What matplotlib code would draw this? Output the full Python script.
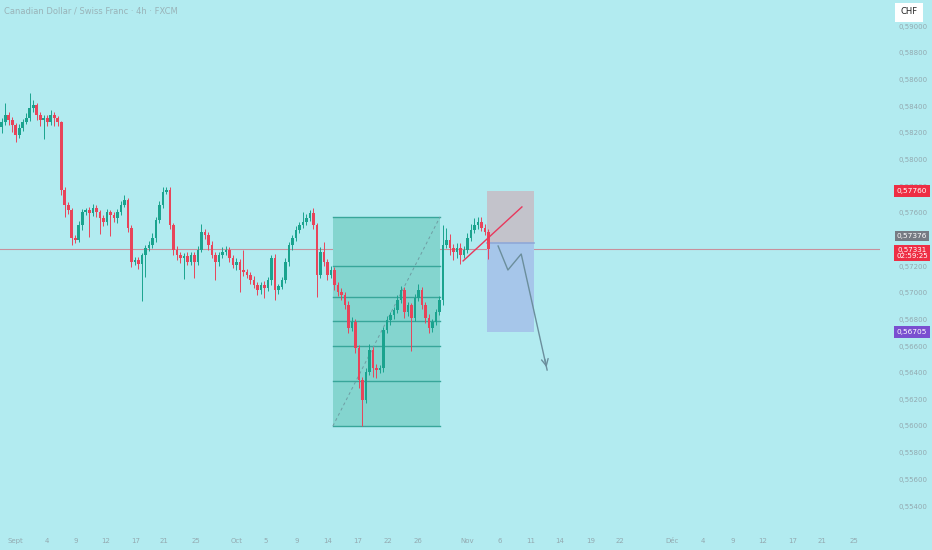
import matplotlib
matplotlib.use("Agg")
import matplotlib.pyplot as plt
from matplotlib.patches import Rectangle
import numpy as np

first_open = 0.58240
closes = [
    0.58280, 0.58333, 0.58295, 0.58258, 0.58183, 0.58235, 0.58280, 0.58310, 0.58385, 0.58408,
    0.58333, 0.58295, 0.58310, 0.58280, 0.58333, 0.58310, 0.58280, 0.57770, 0.57658, 0.57620,
    0.57410, 0.57395, 0.57508, 0.57605, 0.57620, 0.57598, 0.57635, 0.57605, 0.57560, 0.57530,
    0.57605, 0.57583, 0.57560, 0.57605, 0.57658, 0.57695, 0.57485, 0.57230, 0.57245, 0.57215,
    0.57283, 0.57335, 0.57358, 0.57410, 0.57545, 0.57658, 0.57755, 0.57770, 0.57508, 0.57320,
    0.57283, 0.57260, 0.57275, 0.57230, 0.57283, 0.57230, 0.57320, 0.57455, 0.57433, 0.57358,
    0.57283, 0.57230, 0.57283, 0.57305, 0.57320, 0.57260, 0.57208, 0.57230, 0.57170, 0.57155,
    0.57133, 0.57095, 0.57058, 0.57020, 0.57058, 0.57035, 0.57095, 0.57260, 0.57020, 0.57045,
    0.57095, 0.57230, 0.57358, 0.57410, 0.57470, 0.57508, 0.57530, 0.57560, 0.57598, 0.57508,
    0.57133, 0.57305, 0.57230, 0.57133, 0.57170, 0.57058, 0.57005, 0.56983, 0.56908, 0.56735,
    0.56780, 0.56585, 0.56345, 0.56195, 0.56405, 0.56570, 0.56435, 0.56420, 0.56435, 0.56720,
    0.56795, 0.56833, 0.56870, 0.56945, 0.57020, 0.56855, 0.56908, 0.56810, 0.56960, 0.57020,
    0.56908, 0.56810, 0.56735, 0.56780, 0.56855, 0.56945, 0.57358, 0.57395, 0.57335, 0.57305,
    0.57335, 0.57283, 0.57320, 0.57410, 0.57470, 0.57508, 0.57530, 0.57485, 0.57455, 0.57331,
]
# wick lengths beyond the body, in 1e-5
wick_up = [
    30, 90, 25, 20, 15, 30, 20, 40, 110, 40, 15, 20, 25, 20, 35, 20, 15, 10, 25, 20,
    15, 20, 30, 25, 15, 20, 30, 20, 15, 20, 25, 15, 20, 25, 30, 40, 15, 20, 25, 20,
    15, 20, 30, 40, 20, 30, 40, 25, 20, 15, 30, 25, 20, 30, 25, 20, 30, 60, 20, 25,
    30, 20, 25, 35, 30, 20, 25, 30, 20, 150, 25, 20, 30, 20, 25, 30, 20, 25, 30, 20,
    25, 30, 20, 25, 30, 20, 75, 30, 25, 40, 15, 35, 75, 20, 30, 25, 20, 30, 25, 30,
    35, 20, 25, 20, 30, 45, 25, 30, 20, 25, 30, 20, 25, 40, 30, 25, 20, 15, 30, 45,
    25, 20, 30, 25, 20, 30, 150, 90, 45, 30, 40, 35, 30, 40, 45, 50, 40, 35, 30, 25,
]
wick_dn = [
    45, 20, 40, 55, 55, 20, 25, 15, 20, 30, 40, 45, 140, 30, 25, 60, 30, 40, 90, 30,
    52, 20, 15, 35, 25, 180, 20, 35, 120, 30, 20, 160, 30, 40, 20, 15, 30, 40, 20, 35,
    280, 165, 25, 20, 30, 25, 20, 15, 30, 40, 35, 40, 160, 25, 20, 120, 20, 15, 30, 40,
    25, 135, 30, 20, 25, 30, 20, 35, 165, 30, 20, 30, 25, 40, 30, 75, 25, 35, 75, 30,
    20, 25, 30, 40, 20, 25, 20, 25, 20, 30, 165, 20, 30, 35, 25, 40, 30, 35, 30, 40,
    25, 35, 60, 195, 25, 20, 70, 60, 25, 30, 20, 35, 30, 25, 20, 45, 30, 250, 25, 20,
    30, 40, 35, 30, 25, 20, 40, 25, 55, 60, 45, 70, 25, 20, 25, 20, 30, 25, 25, 80,
]

# fib retracement drawn on the Oct swing
fib_high = 0.57568
fib_low = 0.56000
fib_levels = [0, 0.236, 0.382, 0.5, 0.618, 0.786, 1]
fib_x = (94.6, 125.2)

# short position tool
pos_stop = 0.57760
pos_entry = 0.57376
pos_target = 0.56705
pos_x = (138.6, 152.1)

last_price = 0.57331

y_ticks = [0.554, 0.556, 0.558, 0.560, 0.562, 0.564, 0.566, 0.568, 0.570, 0.572,
           0.574, 0.576, 0.578, 0.580, 0.582, 0.584, 0.586, 0.588, 0.590]
# 0.574 sits under the entry tag, so it is not shown
y_hidden = [0.574]
x_tick_pos = [3.8, 12.9, 21.2, 29.8, 38.4, 46.4, 55.5, 67.2, 75.5, 84.4, 93.2, 101.8,
              110.4, 118.9, 132.9, 142.4, 151.0, 159.5, 168.4, 176.6, 191.5, 200.4,
              208.9, 217.5, 226.1, 234.4, 243.5]
x_tick_labels = ['Sept', '4', '9', '12', '17', '21', '25', 'Oct', '5', '9', '14', '17',
                 '22', '26', 'Nov', '6', '11', '14', '19', '22', 'Déc', '4', '9', '12',
                 '17', '21', '25']

BG = '#b2ebf0'
GREEN = '#1aa38e'
RED = '#e8445a'
TXT = '#93a9b0'

fig = plt.figure(figsize=(9.32, 5.5), dpi=100, facecolor=BG)
ax = fig.add_axes([0, 22 / 550, 880 / 932, 528 / 550])
ax.set_facecolor(BG)

closes_a = np.array(closes)
opens_a = np.array([first_open] + closes[:-1])
idx = np.arange(len(closes))
highs = np.maximum(opens_a, closes_a) + np.array(wick_up) * 1e-5
lows = np.minimum(opens_a, closes_a) - np.array(wick_dn) * 1e-5
up = closes_a >= opens_a
cols = np.where(up, GREEN, RED)

ax.vlines(idx, lows, highs, colors=cols, linewidth=0.7, zorder=3)
ax.bar(idx, np.abs(closes_a - opens_a) + 0.00003, bottom=np.minimum(opens_a, closes_a),
       width=0.72, color=cols, linewidth=0, zorder=4)

# fib box
ax.add_patch(Rectangle((fib_x[0], fib_low), fib_x[1] - fib_x[0], fib_high - fib_low,
                       facecolor='#84d5cf', edgecolor='none', zorder=2))
for lv in fib_levels:
    p = fib_high - lv * (fib_high - fib_low)
    ax.plot(fib_x, [p, p], color='#38a69a', linewidth=1.0, zorder=2.5)
ax.plot(fib_x, [fib_low, fib_high], color='#6f9da3', linewidth=0.7,
        linestyle=(0, (3, 3)), zorder=2.6)

# position tool
ax.add_patch(Rectangle((pos_x[0], pos_entry), pos_x[1] - pos_x[0], pos_stop - pos_entry,
                       facecolor='#c3c3cb', edgecolor='none', zorder=2))
ax.add_patch(Rectangle((pos_x[0], pos_target), pos_x[1] - pos_x[0], pos_entry - pos_target,
                       facecolor='#a6c6ea', edgecolor='none', zorder=2))
ax.plot(pos_x, [pos_entry, pos_entry], color='#8fa8d8', linewidth=1.2, zorder=2.2)

# last price line
ax.axhline(last_price, color='#c8909c', linewidth=0.8, zorder=1)

# trend line and projected path
ax.plot([131.8, 148.6], [0.57238, 0.57643], color='#e8385c', linewidth=1.0, zorder=5)
path_x = [141.8, 144.6, 148.4, 155.8]
path_y = [0.57350, 0.57170, 0.57290, 0.56420]
ax.plot(path_x, path_y, color='#6b8e9c', linewidth=1.0, zorder=5)
ax.annotate('', xy=(path_x[-1], path_y[-1]), xytext=(155.0, 0.56520),
            arrowprops=dict(arrowstyle='->', color='#6b8e9c', lw=1.0,
                            mutation_scale=12), zorder=5)

ax.set_xlim(-0.5, 250.9)
ax.set_ylim(0.55235, 0.59195)
for s in ax.spines.values():
    s.set_visible(False)

ax.yaxis.tick_right()
ax.set_yticks(y_ticks)
ax.set_yticklabels(['' if v in y_hidden else f'{v:.5f}'.replace('.', ',') for v in y_ticks])
ax.tick_params(axis='y', length=0, pad=13, labelsize=5, labelcolor=TXT)
ax.set_xticks(x_tick_pos)
ax.set_xticklabels(x_tick_labels)
ax.tick_params(axis='x', length=0, pad=7, labelsize=5, labelcolor=TXT)

fig.text(4 / 932, 1 - 11 / 550, 'Canadian Dollar / Swiss Franc · 4h · FXCM',
         fontsize=6, color='#9ab3b8', va='center', ha='left')
fig.text(909 / 932, 1 - 12 / 550, 'CHF', fontsize=6, color='#222222', ha='center',
         va='center', bbox=dict(boxstyle='square,pad=0.6', facecolor='white', edgecolor='none'))


def price_tag(y_px, txt, color, size=5.3, pad=0.35):
    fig.text(912 / 932, 1 - y_px / 550, txt, fontsize=size, color='white', ha='center',
             va='center', linespacing=1.15,
             bbox=dict(boxstyle=f'square,pad={pad}', facecolor=color, edgecolor='none'),
             zorder=10)


price_tag(191, '0,57760', '#ee2e44')
price_tag(236, '0,57376', '#767b83', pad=0.25)
price_tag(253, '0,57331\n02:59:25', '#ee2e44', size=5.1, pad=0.25)
price_tag(332, '0,56705', '#7a4fd0')

fig.savefig('out.png', dpi=100, facecolor=BG)
